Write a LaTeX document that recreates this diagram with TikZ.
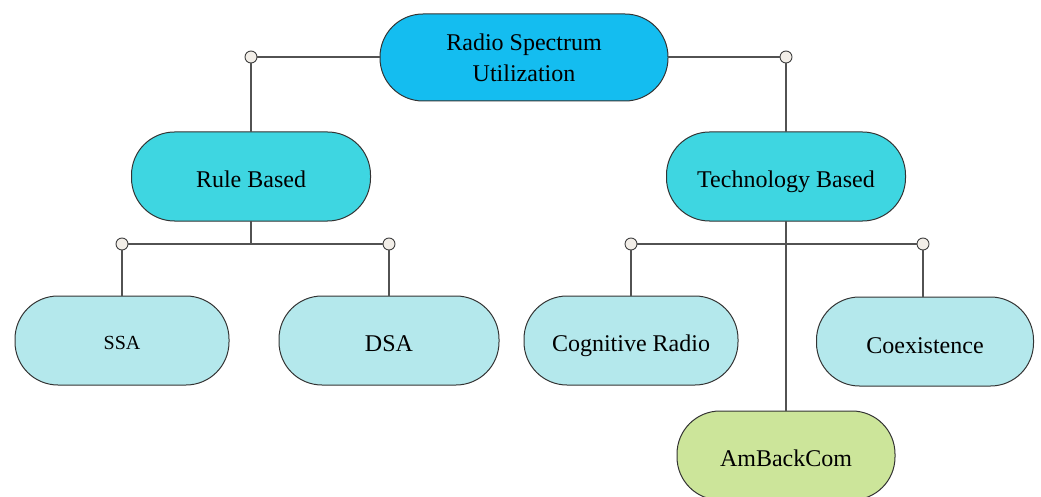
\documentclass[tikz,border=0pt]{standalone}
\usepackage{fontspec}
\setmainfont{Liberation Serif}
\begin{document}
\begin{tikzpicture}[x=1pt,y=-1pt,
  pill/.style={draw=black!80, line width=1pt, rounded corners=43pt, inner sep=0pt, outer sep=0pt,
    minimum height=89pt, align=center, font=\fontsize{24}{31}\selectfont},
  oneline/.style={text height=22pt, text depth=0pt},
  rootbox/.style={pill, fill=rootblue, minimum height=87pt},
  midbox/.style={pill, oneline, fill=midcyan},
  leafbox/.style={pill, oneline, fill=leafcyan},
  greenbox/.style={pill, oneline, fill=leafgreen},
  knob/.style={circle, draw=black!75, fill=knobfill, line width=0.9pt, minimum size=12pt, inner sep=0pt},
  link/.style={draw=black!68, line width=1.3pt}
]
\definecolor{rootblue}{HTML}{14BDF0}
\definecolor{midcyan}{HTML}{3ED6E1}
\definecolor{leafcyan}{HTML}{B4E8EC}
\definecolor{leafgreen}{HTML}{CCE59A}
\definecolor{knobfill}{HTML}{F2EEE8}
\useasboundingbox (0,0) rectangle (1041,497);

% boxes
\node[rootbox, minimum width=288pt] (root) at (524,57.5) {Radio Spectrum\\Utilization};
\node[midbox, minimum width=239pt] (rule) at (251,176.5) {Rule Based};
\node[midbox, minimum width=239pt] (tech) at (786,176.5) {Technology Based};
\node[leafbox, minimum width=214pt, font=\fontsize{20}{24}\selectfont, text height=18pt, text depth=0pt] (ssa) at (122,340.5) {SSA};
\node[leafbox, minimum width=220pt] (dsa) at (389,340.5) {DSA};
\node[leafbox, minimum width=214pt] (cog) at (631,340.5) {Cognitive Radio};
\node[leafbox, minimum width=217pt, text height=24pt] (coe) at (925,341.5) {Coexistence};
\node[greenbox, minimum width=218pt] (amb) at (786,455.5) {AmBackCom};

% junction knobs
\node[knob] (kL) at (251,57) {};
\node[knob] (kR) at (786,57) {};
\node[knob] (kSSA) at (122,244) {};
\node[knob] (kDSA) at (389,244) {};
\node[knob] (kCog) at (631,244) {};
\node[knob] (kCoe) at (923,244) {};
\coordinate (jRule) at (251,244);

% connectors
\path[link] (root.west |- kL) -- (kL.east);
\path[link] (root.east |- kR) -- (kR.west);
\path[link] (kL.south) -- (rule.north);
\path[link] (kR.south) -- (tech.north);
\path[link] (rule.south) -- (jRule);
\path[link] (kSSA.east) -- (kDSA.west);
\path[link] (kSSA.south) -- (kSSA.south |- ssa.north);
\path[link] (kDSA.south) -- (kDSA.south |- dsa.north);
\path[link] (tech.south) -- (amb.north);
\path[link] (kCog.east) -- (kCoe.west);
\path[link] (kCog.south) -- (kCog.south |- cog.north);
\path[link] (kCoe.south) -- (kCoe.south |- coe.north);
\end{tikzpicture}
\end{document}
